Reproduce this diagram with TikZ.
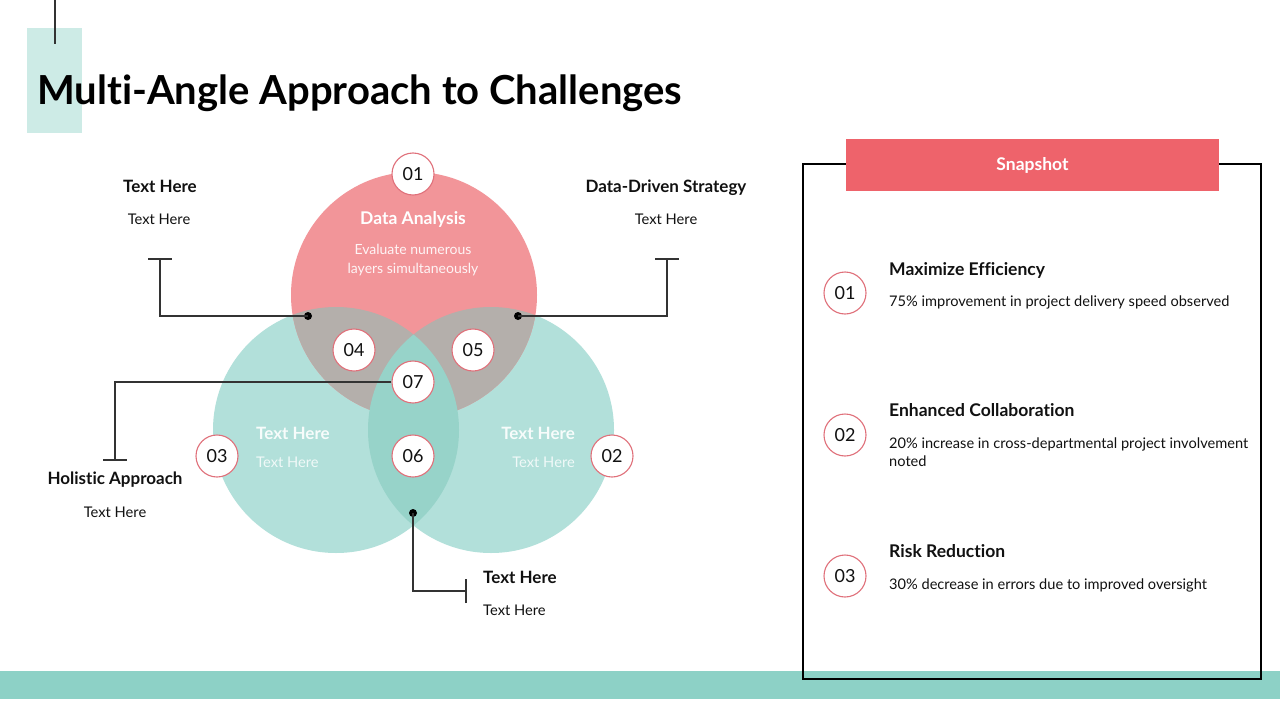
\documentclass[tikz,border=0pt]{standalone}
\usepackage{fontspec}
\setmainfont{Lato}[Ligatures=NoCommon]
\definecolor{pinkc}{HTML}{F29599}
\definecolor{greyc}{HTML}{B4AFAB}
\definecolor{tealc}{HTML}{B2E0DA}
\definecolor{tealtwo}{HTML}{97D3C9}
\definecolor{barc}{HTML}{8DD1C6}
\definecolor{titlebox}{HTML}{CDEBE6}
\definecolor{headc}{HTML}{EE636B}
\definecolor{numred}{HTML}{E0707A}
\definecolor{linec}{HTML}{333333}
\definecolor{txtc}{HTML}{111111}
\begin{document}
\begin{tikzpicture}[x=1pt,y=-1pt,
  num/.style={circle,draw=numred,line width=1.1pt,fill=white,minimum size=42pt,inner sep=0pt,font=\fontsize{18}{18}\selectfont,text=txtc},
  conn/.style={draw=linec,line width=1.5pt},
  dotc/.style={circle,fill=black,inner sep=0pt,minimum size=8pt},
  hd/.style={font=\bfseries\fontsize{17}{20}\selectfont,text=txtc},
  bd/.style={font=\fontsize{14.7}{18}\selectfont,text=txtc},
  phd/.style={font=\bfseries\fontsize{17.5}{20}\selectfont,text=txtc,anchor=base west},
  pbd/.style={font=\fontsize{14.6}{18}\selectfont,text=txtc,anchor=base west,align=left}]
\useasboundingbox (0,0) rectangle (1280,720);
\fill[white] (0,0) rectangle (1280,720);
% title
\fill[titlebox] (27,28) rectangle (82,133);
\draw[line width=1.5pt,linec] (55,0) -- (55,44);
\node[anchor=base west,inner sep=0pt,font=\bfseries\fontsize{40}{44}\selectfont] (title) at (37,104) {Multi-Angle Approach to Challenges};
% bottom bar
\fill[barc] (0,671) rectangle (1280,699);
% venn
\coordinate (P) at (414,295);
\coordinate (L) at (336,430);
\coordinate (R) at (491,430);
\fill[tealc] (L) circle[radius=123pt];
\fill[tealc] (R) circle[radius=123pt];
\fill[pinkc] (P) circle[radius=123pt];
\begin{scope}
\clip (P) circle[radius=123pt];
\fill[greyc] (L) circle[radius=123pt];
\fill[greyc] (R) circle[radius=123pt];
\end{scope}
\begin{scope}
\clip (L) circle[radius=123pt];
\fill[tealtwo] (R) circle[radius=123pt];
\end{scope}
% venn texts
\node[anchor=base,font=\bfseries\fontsize{17.5}{20}\selectfont,text=white] (da) at (413,224) {Data Analysis};
\node[anchor=base,font=\fontsize{14}{19}\selectfont,text=white!90!pinkc,align=center] (dad) at (413,273) {Evaluate numerous\\layers simultaneously};
\node[anchor=base west,inner sep=0pt,font=\bfseries\fontsize{17}{20}\selectfont,text=white!90!tealc] (lt) at (256,439) {Text Here};
\node[anchor=base west,inner sep=0pt,font=\fontsize{14.7}{18}\selectfont,text=white!80!tealc] (ld) at (256,467) {Text Here};
\node[anchor=base east,inner sep=0pt,font=\bfseries\fontsize{17}{20}\selectfont,text=white!90!tealc] (rt) at (575,439) {Text Here};
\node[anchor=base east,inner sep=0pt,font=\fontsize{14.7}{18}\selectfont,text=white!80!tealc] (rd) at (575,467) {Text Here};
% connectors
\node[dotc] (d1) at (308,316) {};
\coordinate (c1) at (160,316);
\coordinate (t1) at (160,259);
\draw[conn] (d1.center) -- (c1) -- (t1);
\draw[conn] ([xshift=-12pt]t1) -- ([xshift=12pt]t1);
\node[dotc] (d2) at (518,316) {};
\coordinate (c2) at (667,316);
\coordinate (t2) at (667,259);
\draw[conn] (d2.center) -- (c2) -- (t2);
\draw[conn] ([xshift=-12pt]t2) -- ([xshift=12pt]t2);
\node[dotc] (d3) at (413,513) {};
\coordinate (c3) at (413,591);
\coordinate (t3) at (466,591);
\draw[conn] (d3.center) -- (c3) -- (t3);
\draw[conn] ([yshift=-12pt]t3) -- ([yshift=12pt]t3);
\coordinate (c4) at (115,382);
\coordinate (t4) at (115,460);
% numbers
\node[num] (n01) at (413,174) {01};
\node[num] (n04) at (354,350) {04};
\node[num] (n05) at (473,350) {05};
\node[num] (n07) at (413,382) {07};
\node[num] (n03) at (217,456) {03};
\node[num] (n06) at (413,456) {06};
\node[num] (n02) at (612,456) {02};
\draw[conn] (n07.west) -- (c4) -- (t4);
\draw[conn] ([xshift=-12pt]t4) -- ([xshift=12pt]t4);
% side labels
\node[hd,anchor=base] (l1h) at (160,192) {Text Here};
\node[bd,anchor=base] (l1b) at (159,224) {Text Here};
\node[hd,anchor=base] (l2h) at (666,192) {Data-Driven Strategy};
\node[bd,anchor=base] (l2b) at (666,224) {Text Here};
\node[hd,anchor=base] (l3h) at (115,484) {Holistic Approach};
\node[bd,anchor=base] (l3b) at (115,517) {Text Here};
\node[hd,anchor=base west,inner sep=0pt] (l4h) at (483,583) {Text Here};
\node[bd,anchor=base west,inner sep=0pt] (l4b) at (483,615) {Text Here};
% panel
\draw[line width=1.2pt,black] (803,164) rectangle (1261,679);
\node[fill=headc,minimum width=373pt,minimum height=52pt,inner sep=0pt,text=white,font=\bfseries\fontsize{17.5}{20}\selectfont] (snap) at (1032.5,165) {Snapshot};
\node[num] (p1) at (845,293) {01};
\node[num] (p2) at (845,435) {02};
\node[num] (p3) at (845,576) {03};
\node[phd,inner sep=0pt] (p1h) at (889,275) {Maximize Efficiency};
\node[pbd,inner sep=0pt] (p1b) at (889,306) {75\% improvement in project delivery speed observed};
\node[phd,inner sep=0pt] (p2h) at (889,416) {Enhanced Collaboration};
\node[pbd,inner sep=0pt] (p2b) at (889,466) {20\% increase in cross-departmental project involvement\\noted};
\node[phd,inner sep=0pt] (p3h) at (889,557) {Risk Reduction};
\node[pbd,inner sep=0pt] (p3b) at (889,589) {30\% decrease in errors due to improved oversight};
\end{tikzpicture}
\end{document}
